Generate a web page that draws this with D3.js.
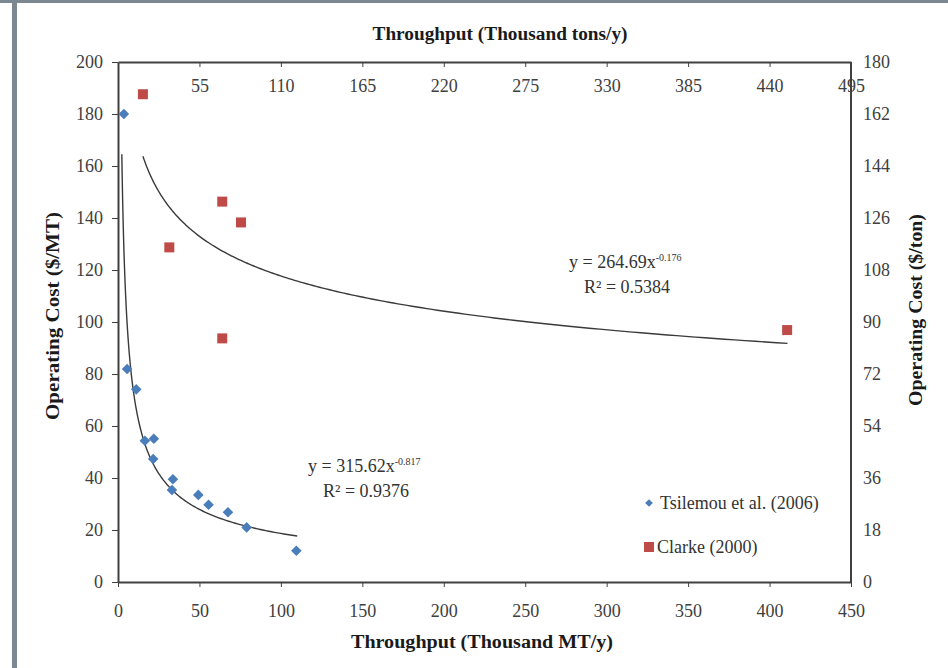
<!DOCTYPE html>
<html>
<head>
<meta charset="utf-8">
<script src="https://cdn.jsdelivr.net/npm/d3@7/dist/d3.min.js"></script>
<style>
  body { margin: 0; background: #fff; }
  svg text { font-family: "Liberation Serif", "Times New Roman", serif; }
  .tick text { fill: #404040; font-size: 18px; }
  .axis path, .axis line { stroke: #404040; }
  .title { font-weight: bold; font-size: 18px; fill: #1a1a1a; }
  .fit { font-size: 18px; fill: #333; }
  .legend text { font-size: 18px; fill: #333; }
</style>
</head>
<body>
<svg width="948" height="668"></svg>
<script>

// Tsilemou et al. (2006) - throughput (thousand MT/y) vs operating cost ($/MT)
var tsilemouX = [3.6, 5.6, 11.2, 16.5, 22.0, 21.6, 33.7, 33.1, 49.3, 55.6, 67.5, 79.0, 109.5];
var tsilemouY = [180, 81.9, 74.1, 54.3, 55.1, 47.3, 39.5, 35.4, 33.5, 29.7, 26.8, 21.0, 12.0];

// Clarke (2000)
var clarkeX = [15.3, 31.5, 64.0, 64.0, 75.5, 410.8];
var clarkeY = [187.6, 128.7, 146.3, 93.7, 138.3, 96.9];

// power trendlines as drawn: [a, b, xFrom, xTo]
var tsilemouTrend = [270, -0.58, 2.35, 110];
var clarkeTrend = [264.69, -0.176, 15.3, 411];

var seriesNames = ["Tsilemou et al. (2006)", "Clarke (2000)"];
var fitLabels = [["y = 315.62x", "-0.817", "R\u00b2 = 0.9376"], ["y = 264.69x", "-0.176", "R\u00b2 = 0.5384"]];

var xTicks = [0, 50, 100, 150, 200, 250, 300, 350, 400, 450];
var yTicks = [0, 20, 40, 60, 80, 100, 120, 140, 160, 180, 200];
var x2Ticks = [55, 110, 165, 220, 275, 330, 385, 440, 495];
var y2Ticks = [0, 18, 36, 54, 72, 90, 108, 126, 144, 162, 180];

var svg = d3.select("svg"),
    width = +svg.attr("width"),
    height = +svg.attr("height");

var margin = {top: 62, right: 97, bottom: 86, left: 118};
var plotW = width - margin.left - margin.right,
    plotH = height - margin.top - margin.bottom;

var blue = "#4a7ebb", red = "#be4b48";

// grey frame of the original screenshot
svg.append("rect").attr("x", 0).attr("y", 0).attr("width", width).attr("height", 3).attr("fill", "#7b8891");
svg.append("rect").attr("x", 12).attr("y", 0).attr("width", 5).attr("height", height).attr("fill", "#7b8891");

var x = d3.scaleLinear().domain([0, 450]).range([margin.left, margin.left + plotW]);
var x2 = d3.scaleLinear().domain([0, 495]).range([margin.left, margin.left + plotW]);
var y = d3.scaleLinear().domain([0, 200]).range([margin.top + plotH, margin.top]);
var y2 = d3.scaleLinear().domain([0, 180]).range([margin.top + plotH, margin.top]);

// axes
var gx = svg.append("g").attr("class", "axis")
    .attr("transform", "translate(0," + (margin.top + plotH) + ")")
    .call(d3.axisBottom(x).tickValues(xTicks).tickSize(5).tickSizeOuter(0));
gx.selectAll("text").attr("y", 35).attr("dy", 0);

var gx2 = svg.append("g").attr("class", "axis")
    .attr("transform", "translate(0," + margin.top + ")")
    .call(d3.axisBottom(x2).tickValues(x2Ticks).tickSize(5).tickSizeOuter(0));
gx2.selectAll("text").attr("y", 30).attr("dy", 0);

var gy = svg.append("g").attr("class", "axis")
    .attr("transform", "translate(" + margin.left + ",0)")
    .call(d3.axisLeft(y).tickValues(yTicks).tickSize(6).tickPadding(9).tickSizeOuter(0));

var gy2 = svg.append("g").attr("class", "axis")
    .attr("transform", "translate(" + (margin.left + plotW) + ",0)")
    .call(d3.axisRight(y2).tickValues(y2Ticks).tickSize(0).tickPadding(12).tickSizeOuter(0));

svg.selectAll(".axis path").attr("stroke-width", 2);
svg.selectAll(".axis .domain").attr("stroke", "#333");
gy2.select(".domain").attr("d", "M0," + margin.top + "V" + (margin.top + plotH));
gx2.select(".domain").attr("stroke", "#222");

// axis titles
svg.append("text").attr("class", "title")
    .attr("x", 500).attr("y", 40).attr("text-anchor", "middle")
    .attr("textLength", 255).attr("lengthAdjust", "spacingAndGlyphs")
    .text("Throughput (Thousand tons/y)");

svg.append("text").attr("class", "title")
    .attr("x", 482).attr("y", 648).attr("text-anchor", "middle")
    .attr("textLength", 262).attr("lengthAdjust", "spacingAndGlyphs")
    .text("Throughput (Thousand MT/y)");

svg.append("text").attr("class", "title")
    .attr("transform", "translate(59,316) rotate(-90)").attr("text-anchor", "middle")
    .attr("textLength", 208).attr("lengthAdjust", "spacingAndGlyphs")
    .text("Operating Cost ($/MT)");

svg.append("text").attr("class", "title")
    .attr("transform", "translate(922,310) rotate(-90)").attr("text-anchor", "middle")
    .attr("textLength", 192).attr("lengthAdjust", "spacingAndGlyphs")
    .text("Operating Cost ($/ton)");

// trendlines
var trendPath = function(t) {
    var xs = d3.range(0, 201).map(function(i) {
        return Math.exp(Math.log(t[2]) + (Math.log(t[3]) - Math.log(t[2])) * i / 200);
    });
    return d3.line()
        .x(function(d) { return x(d); })
        .y(function(d) { return y(t[0] * Math.pow(d, t[1])); })(xs);
};

svg.append("g").attr("class", "trends")
    .selectAll("path")
    .data([tsilemouTrend, clarkeTrend])
    .enter().append("path")
      .attr("d", trendPath)
      .attr("fill", "none")
      .attr("stroke", "#3a3a3a")
      .attr("stroke-width", 1.4);

// points (diamond = square turned 45 degrees)
var diamond = d3.symbol().type(d3.symbolSquare).size(56);
var square = d3.symbol().type(d3.symbolSquare).size(100);

svg.append("g").attr("class", "tsilemou")
    .selectAll("path")
    .data(tsilemouX.map(function(d, i) { return [d, tsilemouY[i]]; }))
    .enter().append("path")
      .attr("d", diamond)
      .attr("transform", function(d) { return "translate(" + x(d[0]) + "," + y(d[1]) + ") rotate(45)"; })
      .attr("fill", blue);

svg.append("g").attr("class", "clarke")
    .selectAll("path")
    .data(clarkeX.map(function(d, i) { return [d, clarkeY[i]]; }))
    .enter().append("path")
      .attr("d", square)
      .attr("transform", function(d) { return "translate(" + x(d[0]) + "," + y(d[1]) + ")"; })
      .attr("fill", red);

// fit equations
var fitPos = [[308, 472], [569, 268]];
fitLabels.forEach(function(f, i) {
    var t = svg.append("text").attr("class", "fit")
        .attr("x", fitPos[i][0]).attr("y", fitPos[i][1]);
    t.append("tspan").text(f[0]);
    t.append("tspan").attr("dy", -7).attr("font-size", 10).text(f[1]);
    svg.append("text").attr("class", "fit")
        .attr("x", fitPos[i][0] + 15).attr("y", fitPos[i][1] + 25)
        .text(f[2]);
});

// legend
var legend = svg.append("g").attr("class", "legend")
    .selectAll("g")
    .data(seriesNames)
    .enter().append("g")
      .attr("transform", function(d, i) { return "translate(649," + (503 + i * 44) + ")"; });

legend.append("path")
    .attr("d", function(d, i) { return i == 0 ? d3.symbol().type(d3.symbolSquare).size(30)() : d3.symbol().type(d3.symbolSquare).size(100)(); })
    .attr("transform", function(d, i) { return i == 0 ? "rotate(45)" : null; })
    .attr("fill", function(d, i) { return i == 0 ? blue : red; });

legend.append("text")
    .attr("x", function(d, i) { return i == 0 ? 11 : 8; })
    .attr("y", 6)
    .text(function(d) { return d; });

</script>
</body>
</html>
